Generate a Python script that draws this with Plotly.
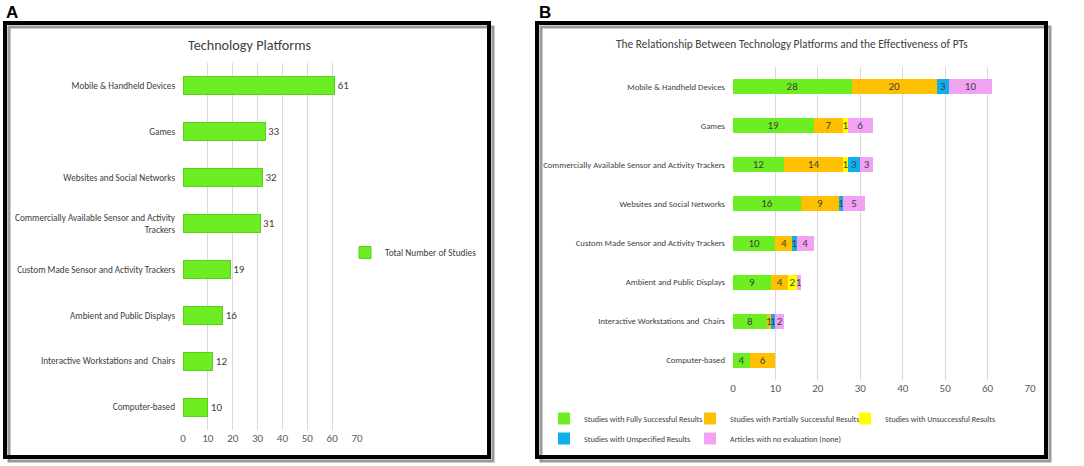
import plotly.graph_objects as go

W, H = 1084, 466

def fx(px):
    return px / W

def fy(py):
    return 1 - py / H

# ---------- Data ----------
cats_a = ["Mobile & Handheld Devices", "Games", "Websites and Social Networks",
          "Commercially Available Sensor and Activity Trackers",
          "Custom Made Sensor and Activity Trackers", "Ambient and Public Displays",
          "Interactive Workstations and  Chairs", "Computer-based"]
labels_a = ["Mobile & Handheld Devices", "Games", "Websites and Social Networks",
            "Commercially Available Sensor and Activity<br>Trackers",
            "Custom Made Sensor and Activity Trackers", "Ambient and Public Displays",
            "Interactive Workstations and  Chairs", "Computer-based"]
total_studies = [61, 33, 32, 31, 19, 16, 12, 10]

cats_b = ["Mobile & Handheld Devices", "Games",
          "Commercially Available Sensor and Activity Trackers",
          "Websites and Social Networks", "Custom Made Sensor and Activity Trackers",
          "Ambient and Public Displays", "Interactive Workstations and  Chairs",
          "Computer-based"]
fully = [28, 19, 12, 16, 10, 9, 8, 4]
partially = [20, 7, 14, 9, 4, 4, 1, 6]
unsuccessful = [0, 1, 1, 0, 0, 2, 0, 0]
unspecified = [3, 0, 3, 1, 1, 0, 1, 0]
no_eval = [10, 6, 3, 5, 4, 1, 2, 0]

series_b = [
    ("Studies with Fully Successful Results", fully, "#6CEE22"),
    ("Studies with Partially Successful Results", partially, "#FFC000"),
    ("Studies with Unsuccessful Results", unsuccessful, "#FFFF00"),
    ("Studies with Unspecified Results", unspecified, "#0FAEEC"),
    ("Articles with no evaluation (none)", no_eval, "#F2A2F2"),
]
ticks = [0, 10, 20, 30, 40, 50, 60, 70]

FONT = "Carlito, Calibri, Liberation Sans Narrow, DejaVu Sans Condensed, sans-serif"
TXT = "#404040"

# legend placement (pixel positions of each legend box, left/top)
legend_pos_b = [(544, 404), (690, 404), (845, 404), (544, 424), (690, 424)]

fig = go.Figure()

fig.add_trace(go.Bar(
    y=cats_a, x=total_studies, orientation="h", name="Total Number of Studies",
    marker=dict(color="#6CEE22", line=dict(color="#5BD018", width=1)),
    width=0.39, text=[str(v) for v in total_studies], textposition="outside",
    textfont=dict(size=11, color=TXT, family=FONT), cliponaxis=False,
    xaxis="x", yaxis="y", legend="legend6"))

for i, (name, vals, col) in enumerate(series_b):
    fig.add_trace(go.Bar(
        y=cats_b, x=vals, orientation="h", name=name,
        marker=dict(color=col, line=dict(width=0)),
        width=0.385, text=[str(v) if v else "" for v in vals],
        textposition="inside", insidetextanchor="middle", textangle=0,
        textfont=dict(size=11, color=TXT, family=FONT),
        xaxis="x2", yaxis="y2", legend="legend" if i == 0 else "legend%d" % (i + 1)))

axis_common = dict(range=[0, 70], tickvals=ticks, showgrid=True, gridcolor="#D9D9D9",
                   gridwidth=1, zeroline=False, showline=False, ticks="",
                   tickfont=dict(size=11, color="#595959", family=FONT), fixedrange=True)

fig.update_layout(
    width=W, height=H, margin=dict(l=0, r=0, t=0, b=0, autoexpand=False),
    paper_bgcolor="white", plot_bgcolor="white", showlegend=True,
    barmode="stack", bargap=0.6,
    uniformtext=dict(minsize=11, mode="show"),
    font=dict(family=FONT, color=TXT),
    xaxis=dict(domain=[fx(183), fx(357)], anchor="y", **axis_common),
    yaxis=dict(domain=[fy(430), fy(63)], anchor="x", autorange="reversed",
               tickvals=cats_a, ticktext=labels_a, ticks="", showgrid=False,
               ticklabelstandoff=7,
               tickfont=dict(size=9.2, color=TXT, family=FONT)),
    xaxis2=dict(domain=[fx(733), fx(1030)], anchor="y2", **axis_common),
    yaxis2=dict(domain=[fy(380), fy(67)], anchor="x2", autorange="reversed",
                ticks="", showgrid=False, ticklabelstandoff=7,
                tickfont=dict(size=8.7, color=TXT, family=FONT)),
)

legend_font = dict(size=8.1, color=TXT, family=FONT)
for i, (lx, ly) in enumerate(legend_pos_b):
    key = "legend" if i == 0 else "legend%d" % (i + 1)
    fig.update_layout({key: dict(x=fx(lx), y=fy(ly), xref="container", yref="container",
                                 xanchor="left", yanchor="top", visible=True,
                                 font=legend_font, itemwidth=30,
                                 bgcolor="rgba(0,0,0,0)")})
fig.update_layout(legend6=dict(x=fx(345), y=fy(238), xref="container", yref="container",
                               xanchor="left", yanchor="top",
                               font=dict(size=9.3, color=TXT, family=FONT), itemwidth=30,
                               bgcolor="rgba(0,0,0,0)"))

shapes = []
for (x0, y0, x1, y1) in [(5, 23, 489, 457), (537, 23, 1046, 457)]:
    shapes.append(dict(type="rect", xref="paper", yref="paper",
                       x0=fx(x0 + 4), x1=fx(x1 + 4), y0=fy(y1 + 4), y1=fy(y0 + 4),
                       line=dict(color="#9A9A9A", width=3), fillcolor="rgba(0,0,0,0)",
                       layer="below"))
    shapes.append(dict(type="rect", xref="paper", yref="paper",
                       x0=fx(x0), x1=fx(x1), y0=fy(y1), y1=fy(y0),
                       line=dict(color="black", width=4), fillcolor="rgba(0,0,0,0)",
                       layer="above"))
fig.update_layout(shapes=shapes)

annotations = [
    dict(text="<b>A</b>", x=fx(4), y=fy(1), xref="paper", yref="paper",
         xanchor="left", yanchor="top", showarrow=False,
         font=dict(size=17, color="black", family="Liberation Sans, Arial, sans-serif")),
    dict(text="<b>B</b>", x=fx(537), y=fy(1), xref="paper", yref="paper",
         xanchor="left", yanchor="top", showarrow=False,
         font=dict(size=17, color="black", family="Liberation Sans, Arial, sans-serif")),
    dict(text="Technology Platforms", x=fx(250), y=fy(45), xref="paper", yref="paper",
         xanchor="center", yanchor="middle", showarrow=False,
         font=dict(size=14.2, color=TXT, family=FONT)),
    dict(text="The Relationship Between Technology Platforms and the Effectiveness of PTs",
         x=fx(792), y=fy(44), xref="paper", yref="paper",
         xanchor="center", yanchor="middle", showarrow=False,
         font=dict(size=11.4, color=TXT, family=FONT)),
]
fig.update_layout(annotations=annotations)

fig.write_html("out.html", config={"displayModeBar": False},
               post_script="document.body.style.margin='0px';document.body.style.padding='0px';")
